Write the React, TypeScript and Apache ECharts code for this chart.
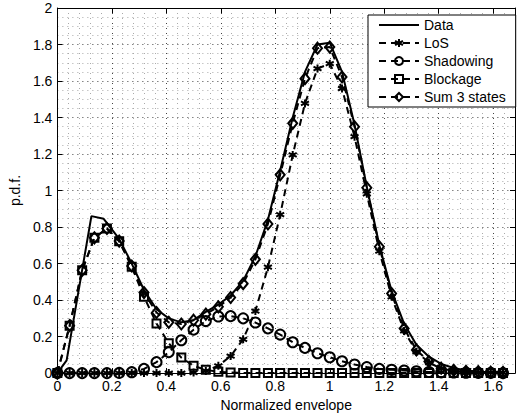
import React, { useEffect, useRef } from 'react';
import * as echarts from 'echarts';

// marker abscissae (bins of width 1/22)
const xs = [0, 0.045, 0.091, 0.136, 0.182, 0.227, 0.273, 0.318, 0.364, 0.409, 0.455, 0.5, 0.545, 0.591, 0.636, 0.682, 0.727, 0.773, 0.818, 0.864, 0.909, 0.955, 1.0, 1.045, 1.091, 1.136, 1.182, 1.227, 1.273, 1.318, 1.364, 1.409, 1.455, 1.5, 1.545, 1.591, 1.636];

const losValues = [0, 0, 0, 0, 0, 0, 0, 0, 0, 0, 0, 0.003, 0.012, 0.04, 0.093, 0.185, 0.34, 0.58, 0.868, 1.195, 1.477, 1.668, 1.695, 1.559, 1.295, 0.982, 0.668, 0.418, 0.231, 0.117, 0.058, 0.024, 0.012, 0.007, 0.005, 0.004, 0.003];

const shadowingValues = [0, 0, 0, 0, 0, 0.001, 0.005, 0.023, 0.06, 0.115, 0.18, 0.238, 0.285, 0.31, 0.312, 0.3, 0.277, 0.245, 0.211, 0.169, 0.138, 0.109, 0.087, 0.065, 0.047, 0.033, 0.023, 0.018, 0.014, 0.01, 0.006, 0.004, 0.003, 0.002, 0.001, 0.001, 0];

const blockageValues = [0, 0.26, 0.563, 0.741, 0.792, 0.722, 0.582, 0.418, 0.272, 0.163, 0.085, 0.04, 0.018, 0.007, 0.003, 0.001, 0, 0, 0, 0, 0, 0, 0, 0, 0, 0, 0, 0, 0, 0, 0, 0, 0, 0, 0, 0, 0];

const sumValues = [0, 0.26, 0.563, 0.741, 0.792, 0.723, 0.587, 0.441, 0.332, 0.278, 0.269, 0.29, 0.323, 0.363, 0.414, 0.49, 0.623, 0.817, 1.086, 1.368, 1.613, 1.78, 1.786, 1.622, 1.35, 1.015, 0.692, 0.436, 0.245, 0.127, 0.064, 0.027, 0.015, 0.01, 0.008, 0.005, 0.004];

// measured data (solid line)
const dataX = [0, 0.034, 0.125, 0.17, 0.227, 0.273, 0.318, 0.364, 0.409, 0.455, 0.5, 0.545, 0.591, 0.636, 0.682, 0.727, 0.773, 0.818, 0.864, 0.909, 0.955, 1.0, 1.045, 1.091, 1.136, 1.182, 1.227, 1.273, 1.318, 1.364, 1.409, 1.455, 1.5, 1.545, 1.591, 1.636];
const dataY = [0, 0.07, 0.86, 0.845, 0.735, 0.6, 0.455, 0.35, 0.3, 0.278, 0.29, 0.335, 0.375, 0.425, 0.505, 0.64, 0.84, 1.11, 1.4, 1.65, 1.8, 1.81, 1.65, 1.36, 1.02, 0.7, 0.45, 0.27, 0.155, 0.09, 0.05, 0.028, 0.015, 0.008, 0.005, 0.003];

const xTicks = { min: 0, max: 1.68, interval: 0.2 };
const yTicks = { min: 0, max: 2, interval: 0.2 };

const font = "'Liberation Sans', Arial, Helvetica, sans-serif";
const asterisk = 'path://M5,0L5,10M0.7,2.5L9.3,7.5M9.3,2.5L0.7,7.5';

const pairs = (x: number[], y: number[]) => y.map((v, i) => [x[i], v]);

export default function App() {
  const ref = useRef<HTMLDivElement>(null);
  useEffect(() => {
    const chart = echarts.init(ref.current!, null, { renderer: 'svg' });
    const major = { show: true, lineStyle: { color: '#444', width: 1, type: [1, 4] } };
    const minor = { show: true, lineStyle: { color: '#aaa', width: 1, type: [1, 4] } };
    const line = { show: true, onZero: false, lineStyle: { color: '#000', width: 1 } };
    const tick = { show: true, inside: true, length: 5, lineStyle: { color: '#000', width: 1 } };
    const fmtX = (v: number) => (v > 1.65 ? '' : String(parseFloat(v.toFixed(1))));
    const fmtY = (v: number) => String(parseFloat(v.toFixed(1)));
    const hollow = { color: 'rgba(0,0,0,0)', borderColor: '#000', borderWidth: 2 };
    const dashed = { color: '#000', width: 2, type: [7, 5] as any };
    const mk = (name: string, vals: number[], symbol: string, size: any, bw = 2) => ({
      name,
      type: 'line',
      data: pairs(xs, vals),
      symbol,
      symbolSize: size,
      showSymbol: true,
      showAllSymbol: true,
      lineStyle: dashed,
      itemStyle: { ...hollow, borderWidth: bw },
      emphasis: { disabled: true },
    });
    chart.setOption({
      animation: false,
      backgroundColor: '#fff',
      grid: { left: 52, top: 8, width: 467, height: 368, containLabel: false },
      legend: {
        orient: 'vertical',
        left: 368,
        top: 15,
        padding: [3, 10, 3, 10],
        itemGap: 4,
        itemWidth: 40,
        itemHeight: 10,
        backgroundColor: '#fff',
        borderColor: '#000',
        borderWidth: 1,
        borderRadius: 0,
        textStyle: { color: '#000', fontSize: 14, fontFamily: font, lineHeight: 14 },
        data: [
          { name: 'Data', icon: 'path://M0,4L40,4L40,6L0,6Z', itemStyle: { color: '#000' } },
          'LoS', 'Shadowing', 'Blockage', 'Sum 3 states',
        ],
      },
      xAxis: [
        {
          type: 'value', ...xTicks, position: 'bottom',
          axisLine: line, axisTick: tick,
          minorTick: { show: false, splitNumber: 5 },
          splitLine: major, minorSplitLine: minor,
          axisLabel: { color: '#000', fontSize: 14, fontFamily: font, margin: 6, formatter: fmtX },
          name: 'Normalized envelope', nameLocation: 'middle', nameGap: 24,
          nameTextStyle: { color: '#000', fontSize: 14, fontFamily: font },
        },
        {
          type: 'value', ...xTicks, position: 'top',
          axisLine: line, axisTick: tick, axisLabel: { show: false }, splitLine: { show: false },
        },
      ],
      yAxis: [
        {
          type: 'value', ...yTicks, position: 'left',
          axisLine: line, axisTick: tick,
          minorTick: { show: false, splitNumber: 4 },
          splitLine: major, minorSplitLine: minor,
          axisLabel: { color: '#000', fontSize: 14, fontFamily: font, margin: 5, formatter: fmtY },
          name: 'p.d.f.', nameLocation: 'middle', nameGap: 30,
          nameTextStyle: { color: '#000', fontSize: 14, fontFamily: font },
        },
        {
          type: 'value', ...yTicks, position: 'right',
          axisLine: line, axisTick: tick, axisLabel: { show: false }, splitLine: { show: false },
        },
      ],
      series: [
        {
          name: 'Data', type: 'line', data: pairs(dataX, dataY), symbol: 'none',
          lineStyle: { color: '#000', width: 2 }, itemStyle: { color: '#000' },
          emphasis: { disabled: true },
        },
        mk('LoS', losValues, asterisk, 8, 2),
        mk('Shadowing', shadowingValues, 'circle', 10),
        mk('Blockage', blockageValues, 'rect', 8),
        mk('Sum 3 states', sumValues, 'diamond', [9, 11]),
      ],
    });
    return () => chart.dispose();
  }, []);
  return <div ref={ref} style={{ position: 'absolute', left: 0, top: 0, width: 518, height: 417 }} />;
}
